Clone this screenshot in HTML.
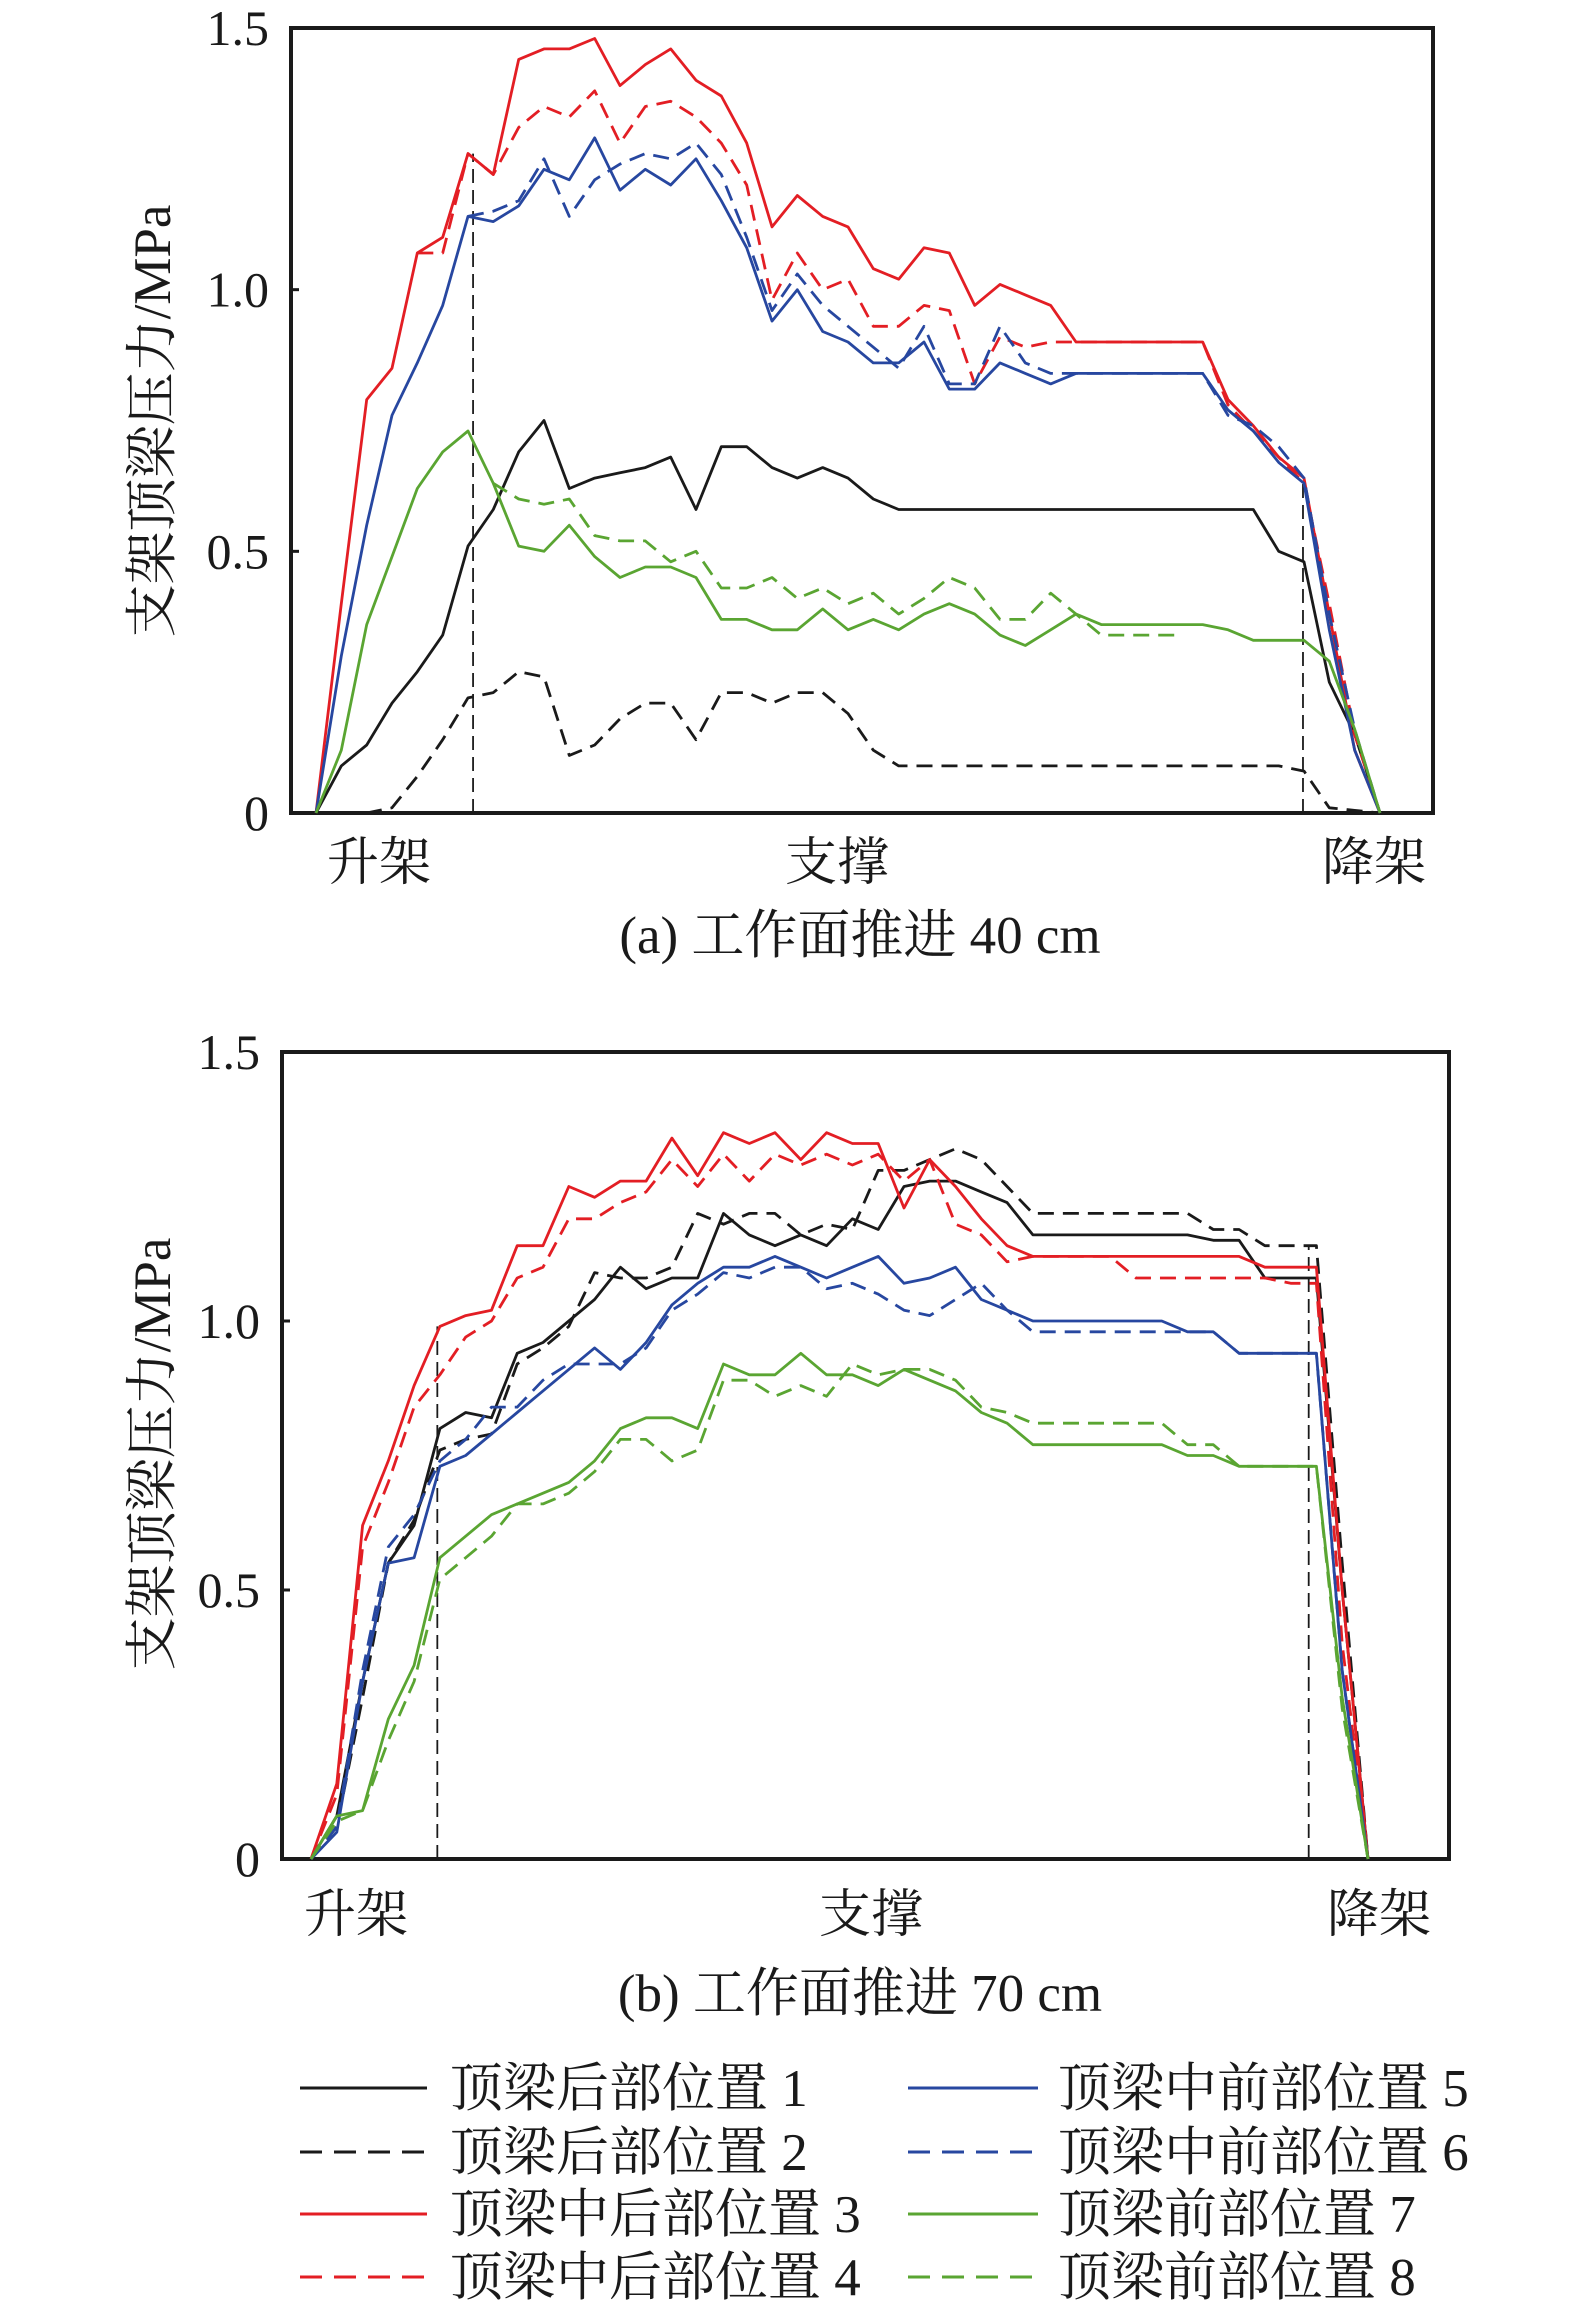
<!DOCTYPE html>
<html><head><meta charset="utf-8"><style>
html,body{margin:0;padding:0;background:#fff;}
svg{display:block;font-family:"Liberation Serif","Noto Serif CJK SC",serif;}
</style></head><body>
<svg id="fig" width="1575" height="2313" viewBox="0 0 1575 2313" xmlns="http://www.w3.org/2000/svg">
<g id="chartA"></g>
<g id="chartB"></g>
<g id="legend"></g>
</svg>
<script>
const seriesNames = ["顶梁后部位置 1","顶梁后部位置 2","顶梁中后部位置 3","顶梁中后部位置 4","顶梁中前部位置 5","顶梁中前部位置 6","顶梁前部位置 7","顶梁前部位置 8"];
const seriesColors = ["#1a1a1a","#1a1a1a","#e31e24","#e31e24","#2747a0","#2747a0","#5aa532","#5aa532"];
const seriesDashed = [false,true,false,true,false,true,false,true];
const yTicks = [0,0.5,1.0,1.5];
const yTickLabels = ["0","0.5","1.0","1.5"];
const phaseLabels = ["升架","支撑","降架"];

// Chart a (40 cm), 43 points
const a1 = [0,0.09,0.13,0.21,0.27,0.34,0.51,0.58,0.69,0.75,0.62,0.64,0.65,0.66,0.68,0.58,0.70,0.70,0.66,0.64,0.66,0.64,0.60,0.58,0.58,0.58,0.58,0.58,0.58,0.58,0.58,0.58,0.58,0.58,0.58,0.58,0.58,0.58,0.50,0.48,0.25,0.15,0];
const a2 = [0,0,0,0.01,0.07,0.14,0.22,0.23,0.27,0.26,0.11,0.13,0.18,0.21,0.21,0.14,0.23,0.23,0.21,0.23,0.23,0.19,0.12,0.09,0.09,0.09,0.09,0.09,0.09,0.09,0.09,0.09,0.09,0.09,0.09,0.09,0.09,0.09,0.09,0.08,0.01,0.005,0];
const a3 = [0,0.40,0.79,0.85,1.07,1.10,1.26,1.22,1.44,1.46,1.46,1.48,1.39,1.43,1.46,1.40,1.37,1.28,1.12,1.18,1.14,1.12,1.04,1.02,1.08,1.07,0.97,1.01,0.99,0.97,0.90,0.90,0.90,0.90,0.90,0.90,0.79,0.74,0.68,0.64,0.38,0.12,0];
const a4 = [null,null,null,null,1.07,1.07,1.26,1.22,1.31,1.35,1.33,1.38,1.28,1.35,1.36,1.33,1.28,1.20,0.98,1.07,1.00,1.02,0.93,0.93,0.97,0.96,0.82,0.91,0.89,0.90,0.90,0.90,0.90,0.90,0.90,0.90,0.78,0.73,0.68,0.63,0.40,0.15,0];
const a5 = [0,0.30,0.55,0.76,0.86,0.97,1.14,1.13,1.16,1.23,1.21,1.29,1.19,1.23,1.20,1.25,1.17,1.08,0.94,1.00,0.92,0.90,0.86,0.86,0.90,0.81,0.81,0.86,0.84,0.82,0.84,0.84,0.84,0.84,0.84,0.84,0.77,0.73,0.67,0.63,0.35,0.12,0];
const a6 = [null,null,null,null,null,null,1.14,1.15,1.17,1.25,1.14,1.21,1.24,1.26,1.25,1.28,1.22,1.10,0.96,1.03,0.97,0.93,0.89,0.85,0.93,0.82,0.82,0.93,0.86,0.84,0.84,0.84,0.84,0.84,0.84,0.84,0.76,0.74,0.70,0.64,0.38,0.16,0];
const a7 = [0,0.12,0.36,0.49,0.62,0.69,0.73,0.63,0.51,0.50,0.55,0.49,0.45,0.47,0.47,0.45,0.37,0.37,0.35,0.35,0.39,0.35,0.37,0.35,0.38,0.40,0.38,0.34,0.32,0.35,0.38,0.36,0.36,0.36,0.36,0.36,0.35,0.33,0.33,0.33,0.29,0.16,0];
const a8 = [null,null,null,null,null,null,null,0.63,0.60,0.59,0.60,0.53,0.52,0.52,0.48,0.50,0.43,0.43,0.45,0.41,0.43,0.40,0.42,0.38,0.41,0.45,0.43,0.37,0.37,0.42,0.38,0.34,0.34,0.34,0.34,null,null,null,null,null,null,null,null];

// Chart b (70 cm), 42 points
const b1 = [0,0.08,0.33,0.55,0.62,0.80,0.83,0.82,0.94,0.96,1.00,1.04,1.10,1.06,1.08,1.08,1.20,1.16,1.14,1.16,1.14,1.19,1.17,1.25,1.26,1.26,1.24,1.22,1.16,1.16,1.16,1.16,1.16,1.16,1.16,1.15,1.15,1.08,1.08,1.08,0.50,0];
const b2 = [0,0.06,0.30,0.55,0.63,0.76,0.78,0.79,0.92,0.95,0.99,1.09,1.08,1.08,1.10,1.20,1.18,1.20,1.20,1.16,1.18,1.17,1.28,1.28,1.30,1.32,1.30,1.25,1.20,1.20,1.20,1.20,1.20,1.20,1.20,1.17,1.17,1.14,1.14,1.14,0.55,0];
const b3 = [0,0.14,0.62,0.74,0.88,0.99,1.01,1.02,1.14,1.14,1.25,1.23,1.26,1.26,1.34,1.27,1.35,1.33,1.35,1.30,1.35,1.33,1.33,1.21,1.30,1.25,1.19,1.14,1.12,1.12,1.12,1.12,1.12,1.12,1.12,1.12,1.12,1.10,1.10,1.10,0.50,0];
const b4 = [0,0.12,0.58,0.70,0.84,0.90,0.97,1.00,1.08,1.10,1.19,1.19,1.22,1.24,1.30,1.25,1.31,1.26,1.31,1.29,1.31,1.29,1.31,1.26,1.30,1.18,1.16,1.11,1.12,1.12,1.12,1.12,1.08,1.08,1.08,1.08,1.08,1.08,1.07,1.07,0.40,0];
const b5 = [0,0.05,0.33,0.55,0.56,0.73,0.75,0.79,0.83,0.87,0.91,0.95,0.91,0.96,1.03,1.07,1.10,1.10,1.12,1.10,1.08,1.10,1.12,1.07,1.08,1.10,1.04,1.02,1.00,1.00,1.00,1.00,1.00,1.00,0.98,0.98,0.94,0.94,0.94,0.94,0.35,0];
const b6 = [0,0.06,0.35,0.58,0.64,0.74,0.78,0.84,0.84,0.89,0.92,0.92,0.92,0.95,1.02,1.05,1.09,1.08,1.10,1.10,1.06,1.07,1.05,1.02,1.01,1.04,1.07,1.02,0.98,0.98,0.98,0.98,0.98,0.98,0.98,0.98,0.94,0.94,0.94,0.94,0.35,0];
const b7 = [0,0.08,0.09,0.26,0.36,0.56,0.60,0.64,0.66,0.68,0.70,0.74,0.80,0.82,0.82,0.80,0.92,0.90,0.90,0.94,0.90,0.90,0.88,0.91,0.89,0.87,0.83,0.81,0.77,0.77,0.77,0.77,0.77,0.77,0.75,0.75,0.73,0.73,0.73,0.73,0.30,0];
const b8 = [0,0.07,0.09,0.22,0.33,0.52,0.56,0.60,0.66,0.66,0.68,0.72,0.78,0.78,0.74,0.76,0.89,0.89,0.86,0.88,0.86,0.92,0.90,0.91,0.91,0.89,0.84,0.83,0.81,0.81,0.81,0.81,0.81,0.81,0.77,0.77,0.73,0.73,0.73,0.73,0.28,0];

const seriesA = [a1,a2,a3,a4,a5,a6,a7,a8];
const seriesB = [b1,b2,b3,b4,b5,b6,b7,b8];
const markerA = [6.2,38.96];
const markerATop = [1.26,0.63];
const markerB = [4.9,38.7];
const markerBTop = [0.99,1.14];

const NS = "http://www.w3.org/2000/svg";
function mk(parent, tag, attrs, text){
  const e = document.createElementNS(NS, tag);
  for (const k in attrs) e.setAttribute(k, attrs[k]);
  if (text !== undefined) e.textContent = text;
  parent.appendChild(e);
  return e;
}

function drawChart(g, cfg, series, markers, markerTops, caption, key){
  const n = series[0].length;
  const xS = i => cfg.x0 + (cfg.x1 - cfg.x0) * i / (n - 1);
  const yS = v => cfg.bottom - (cfg.bottom - cfg.top) * v / 1.5;
  const frame = mk(g, "rect", {x:cfg.left, y:cfg.top, width:cfg.right-cfg.left, height:cfg.bottom-cfg.top, fill:"none", stroke:"#1a1a1a", "stroke-width":4});
  
  
  yTicks.forEach((t, k) => {
    const tk = mk(g, "line", {x1:cfg.left, x2:cfg.left+8, y1:yS(t), y2:yS(t), stroke:"#1a1a1a", "stroke-width":3});
    
    
    const lb = mk(g, "text", {x:cfg.left-22, y:yS(t)+17, "text-anchor":"end", "font-size":50, fill:"#1a1a1a"}, yTickLabels[k]);
    
    
  });
  markers.forEach((m, k) => {
    const ln = mk(g, "line", {x1:xS(m), x2:xS(m), y1:cfg.bottom, y2:yS(markerTops[k]), stroke:"#1a1a1a", "stroke-width":1.8, "stroke-dasharray":"14 7"});
    
    
  });
  series.forEach((vals, s) => {
    let d = "", pen = false;
    vals.forEach((v, i) => {
      if (v === null) { pen = false; return; }
      d += (pen ? "L" : "M") + xS(i).toFixed(1) + "," + yS(v).toFixed(1);
      pen = true;
    });
    const p = mk(g, "path", {d:d, fill:"none", stroke:seriesColors[s], "stroke-width":2.8, "stroke-linejoin":"round"});
    if (seriesDashed[s]) p.setAttribute("stroke-dasharray", "16 9");
    
    
  });
  cfg.phaseX.forEach((px, k) => {
    const t = mk(g, "text", {x:px, y:cfg.phaseY, "text-anchor":"middle", "font-size":52, fill:"#1a1a1a"}, phaseLabels[k]);
    
    
  });
  const yt = mk(g, "text", {x:0, y:0, "text-anchor":"middle", "font-size":53, fill:"#1a1a1a", transform:"translate(" + (cfg.titleX) + "," + cfg.titleY + ") rotate(-90)"}, "支架顶梁压力/MPa");
  
  
  const cp = mk(g, "text", {x:860, y:cfg.captionY, "text-anchor":"middle", "font-size":53, fill:"#1a1a1a"}, caption);
  
  
}

drawChart(document.getElementById("chartA"),
  {left:291, right:1433, top:28, bottom:813, x0:316, x1:1380,
   phaseX:[379,837,1374], phaseY:880, titleX:170, titleY:421, captionY:953},
  seriesA, markerA, markerATop, "(a) 工作面推进 40 cm", "chart-a");
drawChart(document.getElementById("chartB"),
  {left:282, right:1449, top:1052, bottom:1859, x0:311, x1:1368,
   phaseX:[356,871,1379], phaseY:1932, titleX:170, titleY:1454, captionY:2011},
  seriesB, markerB, markerBTop, "(b) 工作面推进 70 cm", "chart-b");

const lg = document.getElementById("legend");
const legRowY = [2088,2152,2214,2277];
for (let s = 0; s < 8; s++) {
  const col = s < 4 ? 0 : 1, row = s % 4;
  const lx0 = col ? 908 : 300, lx1 = col ? 1038 : 427, tx = col ? 1058 : 450;
  const y = legRowY[row];
  const ent = mk(lg, "g", {});
  
  
  const l = mk(ent, "line", {x1:lx0, x2:lx1, y1:y, y2:y, stroke:seriesColors[s], "stroke-width":3});
  if (seriesDashed[s]) l.setAttribute("stroke-dasharray", "22 12");
  
  
  const t = mk(ent, "text", {x:tx, y:y+18, "font-size":53, fill:"#1a1a1a"}, seriesNames[s]);
  
  
}
</script>
</body></html>
